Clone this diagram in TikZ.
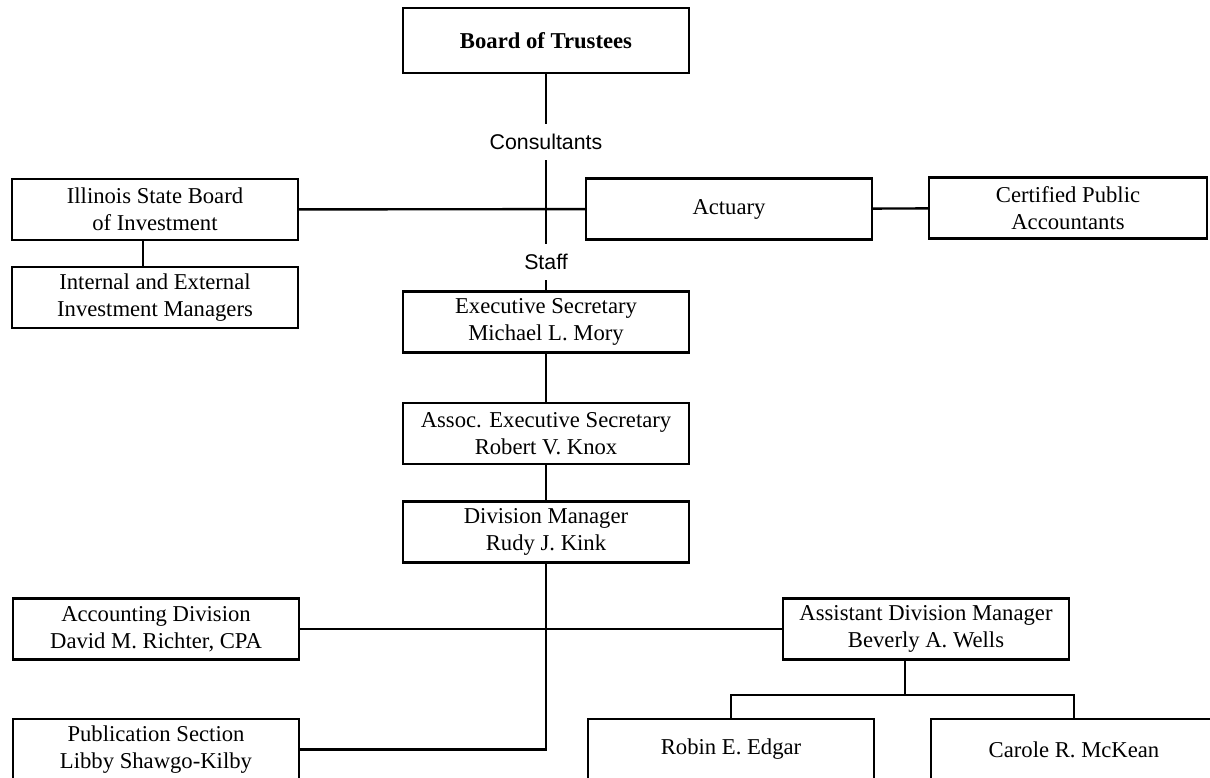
\documentclass[tikz,border=0pt]{standalone}
\usepackage{fontspec}
\setmainfont{Liberation Serif}
\newfontfamily\notefont{Liberation Sans}

\tikzset{every picture/.style={line width=1.8pt}}
\tikzset{
  orgbox/.style={draw, minimum width=214.5pt, minimum height=45.75pt, align=center, inner sep=2pt, font=\fontsize{17}{20}\selectfont},
  orgnote/.style={inner sep=7pt, font=\notefont\fontsize{16}{19}\selectfont}
}

\begin{document}
\begin{tikzpicture}[x=0.75pt,y=0.75pt,yscale=-1,xscale=1]
	\clip (0,0) rectangle (1210,778);

	% Boxes
	\node [orgbox, minimum height=48.75pt, font=\bfseries\fontsize{17}{20}\selectfont] (board) at (546,40.5) {Board of Trustees};
	\node [orgbox] (isbi) at (155,209.5) {Illinois State Board\\of Investment};
	\node [orgbox] (actuary) at (729,209) {Actuary};
	\node [orgbox, minimum width=208.5pt] (cpa) at (1068,208) {Certified Public\\Accountants};
	\node [orgbox] (managers) at (155,297.5) {Internal and External\\Investment Managers};
	\node [orgbox] (exec) at (546,322) {Executive Secretary\\Michael L. Mory};
	\node [orgbox] (assoc) at (546,433.5) {Assoc. Executive Secretary\\Robert V. Knox};
	\node [orgbox] (divman) at (546,532) {Division Manager\\Rudy J. Kink};
	\node [orgbox] (accounting) at (156,629) {Accounting Division\\David M. Richter, CPA};
	\node [orgbox] (asstman) at (926,629) {Assistant Division Manager\\Beverly A. Wells};
	\node [orgbox] (publication) at (156,749.5) {Publication Section\\Libby Shawgo-Kilby};
	\node [orgbox] (edgar) at (731,749.5) {Robin E. Edgar};
	\node [orgbox] (mckean) at (1074,749.5) {Carole R. McKean};

	% Text Node
	\node [orgnote] (consultants) at (546,142) {Consultants};
	% Text Node
	\node [orgnote] (staff) at (546,262) {Staff};

	\coordinate (fork) at (905,695);
	\coordinate (isbidrop) at (143,0);

	% Lines
	\draw (board) -- (consultants);
	\draw (consultants) -- (staff);
	\draw (staff) -- (exec);
	\draw (isbi) -- (actuary);
	\draw (actuary) -- (cpa);
	\draw (isbi.south -| isbidrop) -- (managers.north -| isbidrop);
	\draw (exec) -- (assoc);
	\draw (assoc) -- (divman);
	\draw (divman.south) |- (publication.east);
	\draw (accounting) -- (asstman);
	\draw (asstman.south -| fork) -- (fork);
	\draw (fork) -| (edgar.north);
	\draw (fork) -| (mckean.north);

\end{tikzpicture}
\end{document}
